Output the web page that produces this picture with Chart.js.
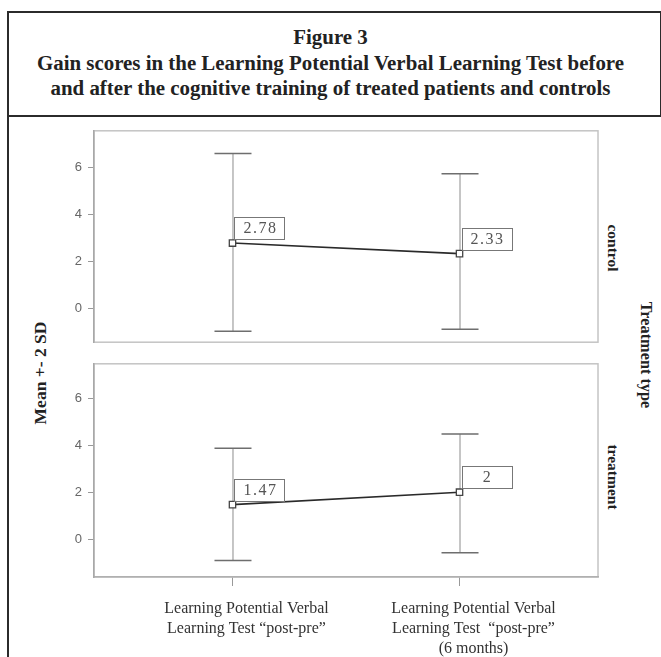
<!DOCTYPE html>
<html>
<head>
<meta charset="utf-8">
<script src="https://cdn.jsdelivr.net/npm/chart.js@4/dist/chart.umd.min.js"></script>
<style>
  html, body { margin: 0; padding: 0; background: #fff; }
  #page { position: relative; width: 661px; height: 657px; overflow: hidden; background: #fff;
          font-family: "Liberation Serif", "Times New Roman", serif; color: #222; }
  #titleBox { position: absolute; left: 7px; top: 11px; width: 651px; height: 102px;
              border: 2px solid #2b2b2b; box-sizing: content-box; }
  #titleText { position: absolute; left: 0; right: 8px; top: 12px; text-align: center;
               font-weight: bold; font-size: 20.9px; line-height: 25.5px; }
  #leftRule { position: absolute; left: 7px; top: 115px; width: 2px; height: 560px; background: #2b2b2b; }
  canvas { position: absolute; }
  .vlabel { position: absolute; white-space: nowrap; font-weight: bold; font-size: 15.5px; color: #222; }
</style>
</head>
<body>
<div id="page">
  <div id="titleBox">
    <div id="titleText">Figure 3<br>Gain scores in the Learning Potential Verbal Learning Test before<br>and after the cognitive training of treated patients and controls</div>
  </div>
  <div id="leftRule"></div>
  <div class="vlabel" style="left:40px;top:373px;transform:translate(-50%,-50%) rotate(-90deg);font-size:17.5px;">Mean +- 2 SD</div>
  <div class="vlabel" style="left:613px;top:248px;transform:translate(-50%,-50%) rotate(90deg);">control</div>
  <div class="vlabel" style="left:613px;top:477px;transform:translate(-50%,-50%) rotate(90deg);">treatment</div>
  <div class="vlabel" style="left:646px;top:355px;transform:translate(-50%,-50%) rotate(90deg);font-size:16.3px;">Treatment type</div>
  <canvas id="topPanel" width="560" height="239" style="left:50px;top:117px;width:560px;height:239px;"></canvas>
  <canvas id="bottomPanel" width="560" height="307" style="left:50px;top:350px;width:560px;height:307px;"></canvas>
</div>
<script>
// Measurement occasions (x categories), drawn as multi-line tick labels
const occasions = [
  ['Learning Potential Verbal', 'Learning Test “post-pre”'],
  ['Learning Potential Verbal', 'Learning Test  “post-pre”', '(6 months)']
];

// Y-axis tick labels shown in each panel
const yTickValues = [0, 2, 4, 6];

// Control group: mean gain score and mean ± 2 SD limits
const controlMean = [2.78, 2.33];
const controlLow  = [-0.98, -0.9];
const controlHigh = [6.6, 5.74];

// Treatment group: mean gain score and mean ± 2 SD limits
const treatmentMean = [1.47, 2];
const treatmentLow  = [-0.92, -0.58];
const treatmentHigh = [3.88, 4.48];

// Draws vertical whiskers with end caps for each point, from the y scale
const errorBarPlugin = {
  id: 'errorBars',
  beforeDatasetsDraw(chart, args, opts) {
    const { ctx } = chart;
    const xs = chart.scales.x, ys = chart.scales.y;
    ctx.save();
    opts.low.forEach((lo, i) => {
      const hi = opts.high[i];
      const x = xs.getPixelForValue(i);
      const yLo = ys.getPixelForValue(lo);
      const yHi = ys.getPixelForValue(hi);
      ctx.strokeStyle = '#8c8c8c';
      ctx.lineWidth = 1;
      ctx.beginPath();
      ctx.moveTo(x + 0.5, yHi);
      ctx.lineTo(x + 0.5, yLo);
      ctx.stroke();
      ctx.strokeStyle = '#6e6e6e';
      ctx.lineWidth = 1.5;
      ctx.beginPath();
      ctx.moveTo(x - 18, yHi); ctx.lineTo(x + 19, yHi);
      ctx.moveTo(x - 18, yLo); ctx.lineTo(x + 19, yLo);
      ctx.stroke();
    });
    ctx.restore();
  }
};

// Framed value labels placed just above-right of each mean
const valueBoxPlugin = {
  id: 'valueBoxes',
  afterDatasetsDraw(chart) {
    const { ctx } = chart;
    const meta = chart.getDatasetMeta(0);
    const data = chart.data.datasets[0].data;
    ctx.save();
    meta.data.forEach((pt, i) => {
      const w = 50, h = 22;
      const left = pt.x + 2, bottom = pt.y - 4;
      ctx.fillStyle = '#fff';
      ctx.fillRect(left, bottom - h, w, h);
      ctx.strokeStyle = '#777';
      ctx.lineWidth = 1;
      ctx.strokeRect(Math.round(left) + 0.5, Math.round(bottom - h) + 0.5, w, h);
      ctx.fillStyle = '#555';
      ctx.font = '16px "Liberation Serif", serif';
      ctx.letterSpacing = '1.5px';
      ctx.textAlign = 'center';
      ctx.textBaseline = 'middle';
      ctx.fillText(String(data[i].y), left + w / 2 + 1, bottom - h / 2 + 1);
    });
    ctx.restore();
  }
};

// Light frame around the plotting area
const framePlugin = {
  id: 'panelFrame',
  beforeDraw(chart) {
    const { ctx, chartArea: a } = chart;
    ctx.save();
    ctx.strokeStyle = '#c4c4c4';
    ctx.lineWidth = 1.5;
    ctx.strokeRect(a.left, a.top, a.right - a.left, a.bottom - a.top);
    ctx.restore();
  }
};

function makePanel(id, mean, low, high, yMin, yMax, showX, pad) {
  return new Chart(document.getElementById(id), {
    type: 'line',
    data: {
      datasets: [{
        data: mean.map((v, i) => ({ x: i, y: v })),
        borderColor: '#2a2a2a',
        borderWidth: 1.6,
        pointStyle: 'rect',
        pointRadius: 4.5,
        pointBorderWidth: 1.3,
        pointBorderColor: '#444',
        pointBackgroundColor: '#fff',
        tension: 0
      }]
    },
    options: {
      responsive: false,
      animation: false,
      layout: { padding: pad },
      plugins: {
        legend: { display: false },
        tooltip: { enabled: false },
        errorBars: { low, high }
      },
      scales: {
        x: {
          type: 'linear',
          min: -0.61,
          max: 1.61,
          display: showX,
          afterBuildTicks: (axis) => { axis.ticks = occasions.map((_, i) => ({ value: i })); },
          afterFit: (axis) => { if (showX) axis.height = 80; },
          grid: { drawOnChartArea: false, drawTicks: true, tickLength: 9, color: '#999', lineWidth: 1 },
          border: { display: true, color: '#b0b0b0', width: 1.5 },
          ticks: {
            autoSkip: false,
            maxRotation: 0,
            padding: 13,
            labelOffset: 14,
            color: '#333',
            font: { family: '"Liberation Serif", serif', size: 16, lineHeight: 1.25 },
            callback: (v) => occasions[v]
          }
        },
        y: {
          min: yMin,
          max: yMax,
          afterBuildTicks: (axis) => { axis.ticks = yTickValues.map(v => ({ value: v })); },
          afterFit: (axis) => { axis.width = 34; },
          grid: { drawOnChartArea: false, drawTicks: true, tickLength: 6, color: '#999', lineWidth: 1 },
          border: { display: true, color: '#a8a8a8', width: 1.5 },
          ticks: {
            padding: 6,
            color: '#666',
            font: { family: '"Liberation Sans", sans-serif', size: 13 },
            callback: (v) => String(v)
          }
        }
      }
    },
    plugins: [framePlugin, errorBarPlugin, valueBoxPlugin]
  });
}

makePanel('topPanel', controlMean, controlLow, controlHigh, -1.45, 7.57, false,
  { left: 10, top: 0, right: 12, bottom: 0 });
makePanel('bottomPanel', treatmentMean, treatmentLow, treatmentHigh, -1.62, 7.48, true,
  { left: 10, top: 0, right: 12, bottom: 0 });
</script>
</body>
</html>
